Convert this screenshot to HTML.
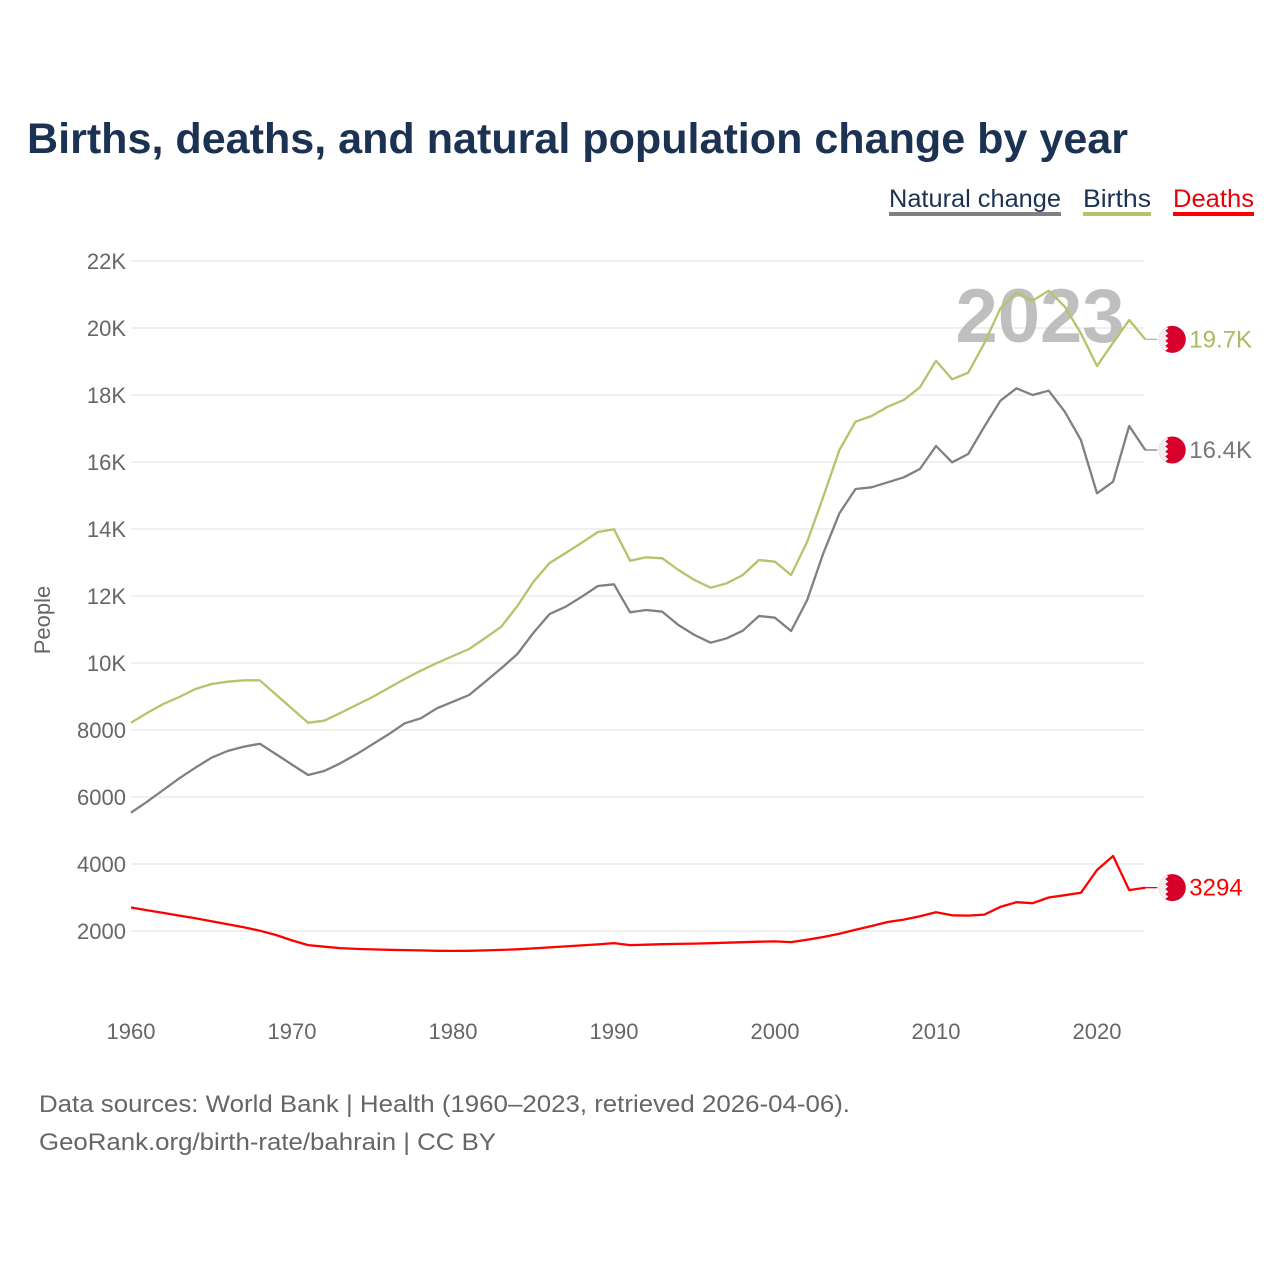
<!DOCTYPE html>
<html><head><meta charset="utf-8"><style>
html,body{margin:0;padding:0;background:#fff;}
body{width:1280px;height:1280px;position:relative;font-family:"Liberation Sans",sans-serif;overflow:hidden;}
</style></head><body>
<svg id="chart" width="1280" height="1280" viewBox="0 0 1280 1280" xmlns="http://www.w3.org/2000/svg" font-family="Liberation Sans, sans-serif">
<defs>
<clipPath id="fc"><circle cx="0" cy="0" r="13.5"/></clipPath>
<g id="flag">
<g clip-path="url(#fc)">
<rect x="-14" y="-14" width="28" height="28" fill="#d7002a"/>
<polygon points="-14,-14 -7,-14 -4,-11 -7,-8.5 -4,-6 -7,-3.5 -4,-1 -7,1.5 -4,4 -7,6.5 -4,9 -7,11.5 -4,14 -14,14" fill="#f0f0f0"/>
</g></g>
</defs>
<text x="27" y="153" font-size="43" font-weight="bold" fill="#1b3252" textLength="1101" lengthAdjust="spacingAndGlyphs">Births, deaths, and natural population change by year</text>
<g font-size="25">
<g><text x="889" y="207" fill="#1b3252" textLength="172" lengthAdjust="spacingAndGlyphs">Natural change</text><rect x="889" y="212" width="172" height="4" fill="#808080"/></g>
<g><text x="1083" y="207" fill="#1b3252" textLength="68" lengthAdjust="spacingAndGlyphs">Births</text><rect x="1083" y="212" width="68" height="4" fill="#b3c46b"/></g>
<g><text x="1173" y="207" fill="#e8000b" textLength="81" lengthAdjust="spacingAndGlyphs">Deaths</text><rect x="1173" y="212" width="81" height="4" fill="#ff0000"/></g>
</g>
<g id="grid"></g>
<g id="yticks" font-size="22" fill="#666" text-anchor="end"></g>
<g id="xticks" font-size="22" fill="#666" text-anchor="middle"></g>
<text transform="translate(50,620) rotate(-90)" font-size="22" fill="#666" text-anchor="middle">People</text>
<text x="1040" y="342" font-size="76" font-weight="bold" fill="#aaa" fill-opacity="0.75" text-anchor="middle">2023</text>
<g id="series"></g>
<g id="ends" font-size="24"></g>
<text x="39" y="1112" font-size="24" fill="#666" textLength="811" lengthAdjust="spacingAndGlyphs">Data sources: World Bank | Health (1960–2023, retrieved 2026-04-06).</text>
<text x="39" y="1150" font-size="24" fill="#666" textLength="457" lengthAdjust="spacingAndGlyphs">GeoRank.org/birth-rate/bahrain | CC BY</text>
</svg>
<script>
const startYear = 1960;
const births = [8218,8507,8776,8985,9224,9373,9442,9483,9483,9060,8639,8218,8278,8507,8746,8985,9254,9522,9770,10000,10209,10418,10746,11084,11701,12427,12985,13283,13591,13910,13990,13053,13155,13125,12776,12477,12248,12379,12627,13075,13024,12627,13621,14964,16358,17203,17373,17650,17851,18229,19024,18468,18665,19543,20588,21054,20815,21113,20636,19842,18865,19561,20238,19660];
const naturalChange = [5531,5860,6209,6558,6875,7173,7373,7501,7591,7280,6967,6657,6776,7006,7275,7573,7872,8200,8349,8648,8845,9045,9442,9842,10268,10904,11462,11681,11979,12298,12349,11513,11582,11531,11134,10836,10606,10737,10964,11403,11352,10955,11880,13274,14468,15194,15244,15394,15543,15791,16477,15991,16238,17053,17829,18200,18000,18128,17501,16656,15065,15412,17074,16358];
const deaths = [2700,2620,2540,2460,2380,2290,2200,2110,2010,1880,1720,1580,1530,1490,1465,1450,1440,1430,1420,1410,1405,1410,1420,1435,1455,1480,1510,1540,1570,1600,1640,1580,1590,1605,1615,1625,1635,1650,1665,1680,1690,1670,1740,1820,1920,2040,2150,2270,2340,2440,2560,2470,2460,2490,2720,2860,2830,3000,3070,3140,3820,4240,3220,3294];
const yTicks = [2000,4000,6000,8000,10000,12000,14000,16000,18000,20000,22000];
const yTickLabels = ["2000","4000","6000","8000","10K","12K","14K","16K","18K","20K","22K"];
const xTicks = [1960,1970,1980,1990,2000,2010,2020];
const endLabels = ["19.7K","16.4K","3294"];

const NS="http://www.w3.org/2000/svg";
const X0=131, XPY=16.1, Y0=931, PPK=33.5;
const xs = yr => X0 + (yr-1960)*XPY;
const ys = v => Y0 - (v-2000)/1000*PPK;
function mk(tag, attrs, parent){const e=document.createElementNS(NS,tag);for(const k in attrs)e.setAttribute(k,attrs[k]);parent.appendChild(e);return e;}

const grid=document.getElementById('grid'), yt=document.getElementById('yticks'), xt=document.getElementById('xticks');
yTicks.forEach((v,i)=>{
  const l=mk('line',{x1:131,x2:1144,y1:ys(v),y2:ys(v),stroke:'#e6e6e6','stroke-width':1.3},grid);
  
  
  const t=mk('text',{x:126,y:ys(v)+8},yt);t.textContent=yTickLabels[i];
  
  
});
xTicks.forEach(yr=>{
  const t=mk('text',{x:xs(yr),y:1039},xt);t.textContent=String(yr);
  
  
});
const series=document.getElementById('series'), ends=document.getElementById('ends');
const defs=[[births,'#b3c46b','#a9bb5e','births'],[naturalChange,'#808080','#777','natural-change'],[deaths,'#ff0000','#ff0000','deaths']];
defs.forEach(([arr,col,tcol,name],i)=>{
  const d=arr.map((v,k)=>(k?'L':'M')+xs(startYear+k).toFixed(1)+','+ys(v).toFixed(1)).join(' ');
  const p=mk('path',{d:d,fill:'none',stroke:col,'stroke-width':2.3,'stroke-linejoin':'round'},series);
  
  
  const lx=xs(startYear+arr.length-1), ly=ys(arr[arr.length-1]);
  const c=mk('line',{x1:lx,x2:lx+12,y1:ly,y2:ly,stroke:col,'stroke-width':1.3},ends);
  
  
  const f=mk('use',{href:'#flag',transform:`translate(${lx+27},${ly})`},ends);
  
  
  const t=mk('text',{x:lx+44,y:ly+8,fill:tcol},ends);t.textContent=endLabels[i];
  
  
});
</script>
</body></html>
